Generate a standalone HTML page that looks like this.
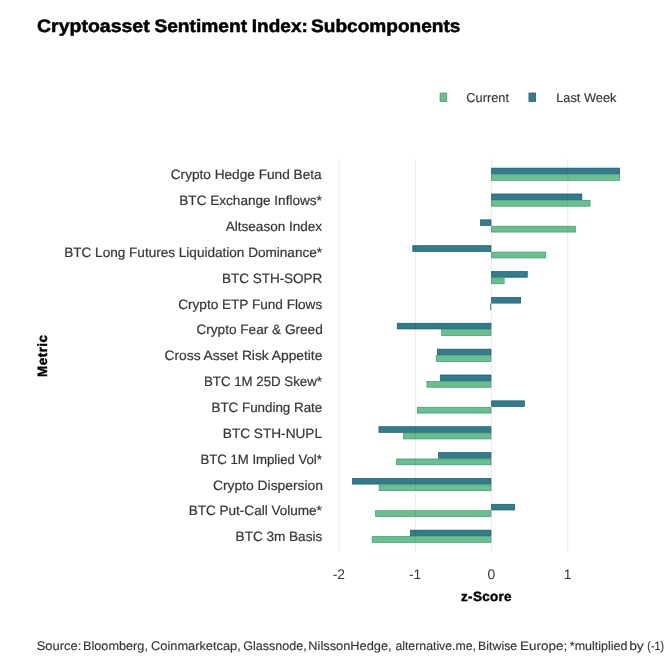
<!DOCTYPE html>
<html><head><meta charset="utf-8"><title>Cryptoasset Sentiment Index: Subcomponents</title>
<style>
html,body{margin:0;padding:0;background:#fff;}
body{width:671px;height:671px;overflow:hidden;}
svg{display:block;}
text{font-family:"Liberation Sans",sans-serif;text-rendering:geometricPrecision;}
.t{font-size:18px;font-weight:bold;fill:#000;stroke:#000;stroke-width:0.5px;}
.l{font-size:13.5px;fill:#363636;letter-spacing:-0.02px;stroke:#363636;stroke-width:0.2px;}
.g{font-size:12.8px;fill:#363636;stroke:#363636;stroke-width:0.15px;}
.k{font-size:13.8px;fill:#363636;}
.a{font-size:13.5px;font-weight:bold;fill:#000;letter-spacing:0.3px;stroke:#000;stroke-width:0.4px;}
.f{font-size:12.4px;fill:#363636;stroke:#363636;stroke-width:0.15px;}
</style></head><body>
<svg width="671" height="671" viewBox="0 0 671 671">
<rect width="671" height="671" fill="#fff"/>
<text class="t" y="32.3"><tspan x="37.06" textLength="112.59" lengthAdjust="spacingAndGlyphs">Cryptoasset</tspan> <tspan x="154.43" textLength="92.68" lengthAdjust="spacingAndGlyphs">Sentiment</tspan> <tspan x="251.84" textLength="55.96" lengthAdjust="spacingAndGlyphs">Index:</tspan> <tspan x="311.04" textLength="149.41" lengthAdjust="spacingAndGlyphs">Subcomponents</tspan></text>
<rect x="440.05" y="93.05" width="6.70" height="8.50" fill="#67c08f" stroke="#45906c" stroke-width="0.7"/>
<text class="g" x="466.3" y="101.9">Current</text>
<rect x="528.95" y="93.05" width="6.70" height="8.50" fill="#317d8d" stroke="#1c5865" stroke-width="0.7"/>
<text class="g" x="556.2" y="101.9">Last Week</text>
<rect x="491.65" y="168.10" width="128.00" height="5.70" fill="#317d8d" stroke="#1c5966" stroke-width="0.7"/>
<rect x="491.65" y="174.50" width="128.00" height="5.85" fill="#67c08f" stroke="#489372" stroke-width="0.7"/>
<text class="l" x="170.74" y="179.30" textLength="150.86" lengthAdjust="spacingAndGlyphs">Crypto Hedge Fund Beta</text>
<rect x="491.65" y="193.96" width="90.20" height="5.70" fill="#317d8d" stroke="#1c5966" stroke-width="0.7"/>
<rect x="491.65" y="200.36" width="98.40" height="5.85" fill="#67c08f" stroke="#489372" stroke-width="0.7"/>
<text class="l" x="179.29" y="205.16" textLength="142.57" lengthAdjust="spacingAndGlyphs">BTC Exchange Inflows*</text>
<rect x="480.55" y="219.82" width="10.40" height="5.70" fill="#317d8d" stroke="#1c5966" stroke-width="0.7"/>
<rect x="491.65" y="226.22" width="83.90" height="5.85" fill="#67c08f" stroke="#489372" stroke-width="0.7"/>
<text class="l" x="225.8" y="231.02" textLength="96.27" lengthAdjust="spacingAndGlyphs">Altseason Index</text>
<rect x="412.75" y="245.68" width="78.20" height="5.70" fill="#317d8d" stroke="#1c5966" stroke-width="0.7"/>
<rect x="491.65" y="252.08" width="54.10" height="5.85" fill="#67c08f" stroke="#489372" stroke-width="0.7"/>
<text class="l" x="64.19" y="256.88" textLength="257.89" lengthAdjust="spacingAndGlyphs">BTC Long Futures Liquidation Dominance*</text>
<rect x="491.65" y="271.54" width="35.60" height="5.70" fill="#317d8d" stroke="#1c5966" stroke-width="0.7"/>
<rect x="491.65" y="277.94" width="12.50" height="5.85" fill="#67c08f" stroke="#489372" stroke-width="0.7"/>
<text class="l" x="222.0" y="282.74" textLength="100.32" lengthAdjust="spacingAndGlyphs">BTC STH-SOPR</text>
<rect x="491.65" y="297.40" width="29.00" height="5.70" fill="#317d8d" stroke="#1c5966" stroke-width="0.7"/>
<rect x="490.10" y="303.45" width="1.20" height="6.55" fill="#4e8a6e"/>
<text class="l" x="178.24" y="308.60" textLength="143.95" lengthAdjust="spacingAndGlyphs">Crypto ETP Fund Flows</text>
<rect x="397.25" y="323.26" width="93.70" height="5.70" fill="#317d8d" stroke="#1c5966" stroke-width="0.7"/>
<rect x="441.55" y="329.66" width="49.40" height="5.85" fill="#67c08f" stroke="#489372" stroke-width="0.7"/>
<text class="l" x="196.44" y="334.46" textLength="126.29" lengthAdjust="spacingAndGlyphs">Crypto Fear &amp; Greed</text>
<rect x="437.55" y="349.12" width="53.40" height="5.70" fill="#317d8d" stroke="#1c5966" stroke-width="0.7"/>
<rect x="436.25" y="355.52" width="54.70" height="5.85" fill="#67c08f" stroke="#489372" stroke-width="0.7"/>
<text class="l" x="164.53" y="360.32" textLength="157.86" lengthAdjust="spacingAndGlyphs">Cross Asset Risk Appetite</text>
<rect x="440.25" y="374.98" width="50.70" height="5.70" fill="#317d8d" stroke="#1c5966" stroke-width="0.7"/>
<rect x="426.95" y="381.38" width="64.00" height="5.85" fill="#67c08f" stroke="#489372" stroke-width="0.7"/>
<text class="l" x="204.02" y="386.18" textLength="117.9" lengthAdjust="spacingAndGlyphs">BTC 1M 25D Skew*</text>
<rect x="491.65" y="400.84" width="32.80" height="5.70" fill="#317d8d" stroke="#1c5966" stroke-width="0.7"/>
<rect x="417.45" y="407.24" width="73.50" height="5.85" fill="#67c08f" stroke="#489372" stroke-width="0.7"/>
<text class="l" x="211.51" y="412.04" textLength="110.77" lengthAdjust="spacingAndGlyphs">BTC Funding Rate</text>
<rect x="378.95" y="426.70" width="112.00" height="5.70" fill="#317d8d" stroke="#1c5966" stroke-width="0.7"/>
<rect x="403.45" y="433.10" width="87.50" height="5.85" fill="#67c08f" stroke="#489372" stroke-width="0.7"/>
<text class="l" x="222.79" y="437.90" textLength="99.25" lengthAdjust="spacingAndGlyphs">BTC STH-NUPL</text>
<rect x="438.55" y="452.56" width="52.40" height="5.70" fill="#317d8d" stroke="#1c5966" stroke-width="0.7"/>
<rect x="396.65" y="458.96" width="94.30" height="5.85" fill="#67c08f" stroke="#489372" stroke-width="0.7"/>
<text class="l" x="200.52" y="463.76" textLength="121.35" lengthAdjust="spacingAndGlyphs">BTC 1M Implied Vol*</text>
<rect x="352.35" y="478.42" width="138.60" height="5.70" fill="#317d8d" stroke="#1c5966" stroke-width="0.7"/>
<rect x="379.15" y="484.82" width="111.80" height="5.85" fill="#67c08f" stroke="#489372" stroke-width="0.7"/>
<text class="l" x="213.03" y="489.62" textLength="109.95" lengthAdjust="spacingAndGlyphs">Crypto Dispersion</text>
<rect x="491.65" y="504.28" width="23.00" height="5.70" fill="#317d8d" stroke="#1c5966" stroke-width="0.7"/>
<rect x="375.65" y="510.68" width="115.30" height="5.85" fill="#67c08f" stroke="#489372" stroke-width="0.7"/>
<text class="l" x="188.69" y="515.48" textLength="133.16" lengthAdjust="spacingAndGlyphs">BTC Put-Call Volume*</text>
<rect x="410.45" y="530.14" width="80.50" height="5.70" fill="#317d8d" stroke="#1c5966" stroke-width="0.7"/>
<rect x="372.15" y="536.54" width="118.80" height="5.85" fill="#67c08f" stroke="#489372" stroke-width="0.7"/>
<text class="l" x="235.59" y="541.34" textLength="86.64" lengthAdjust="spacingAndGlyphs">BTC 3m Basis</text>
<rect x="338.55" y="159.2" width="0.9" height="392.6" fill="#000" fill-opacity="0.09"/>
<rect x="414.85" y="159.2" width="0.9" height="392.6" fill="#000" fill-opacity="0.09"/>
<rect x="490.85" y="159.2" width="0.9" height="392.6" fill="#000" fill-opacity="0.09"/>
<rect x="567.35" y="159.2" width="0.9" height="392.6" fill="#000" fill-opacity="0.09"/>
<text class="k" x="338.80" y="578.5" text-anchor="middle">-2</text>
<text class="k" x="415.10" y="578.5" text-anchor="middle">-1</text>
<text class="k" x="491.40" y="578.5" text-anchor="middle">0</text>
<text class="k" x="567.70" y="578.5" text-anchor="middle">1</text>
<text class="a" x="486.5" y="601.4" text-anchor="middle">z-Score</text>
<text class="a" transform="translate(47.2,355.7) rotate(-90)" text-anchor="middle" style="letter-spacing:0.45px">Metric</text>
<text class="f" y="649.7"><tspan x="36.68" textLength="44.68" lengthAdjust="spacingAndGlyphs">Source:</tspan> <tspan x="82.97" textLength="64.98" lengthAdjust="spacingAndGlyphs">Bloomberg,</tspan> <tspan x="151.08" textLength="89.68" lengthAdjust="spacingAndGlyphs">Coinmarketcap,</tspan> <tspan x="243.29" textLength="63.41" lengthAdjust="spacingAndGlyphs">Glassnode,</tspan> <tspan x="308.37" textLength="83.26" lengthAdjust="spacingAndGlyphs">NilssonHedge,</tspan> <tspan x="395.4" textLength="80.6" lengthAdjust="spacingAndGlyphs">alternative.me,</tspan> <tspan x="478.1" textLength="39.09" lengthAdjust="spacingAndGlyphs">Bitwise</tspan> <tspan x="520.12" textLength="47.04" lengthAdjust="spacingAndGlyphs">Europe;</tspan> <tspan x="569.85" textLength="57.58" lengthAdjust="spacingAndGlyphs">*multiplied</tspan> <tspan x="629.15" textLength="14.67" lengthAdjust="spacingAndGlyphs">by</tspan> <tspan x="647.37" textLength="16.58" lengthAdjust="spacingAndGlyphs">(-1)</tspan></text>
</svg></body></html>
